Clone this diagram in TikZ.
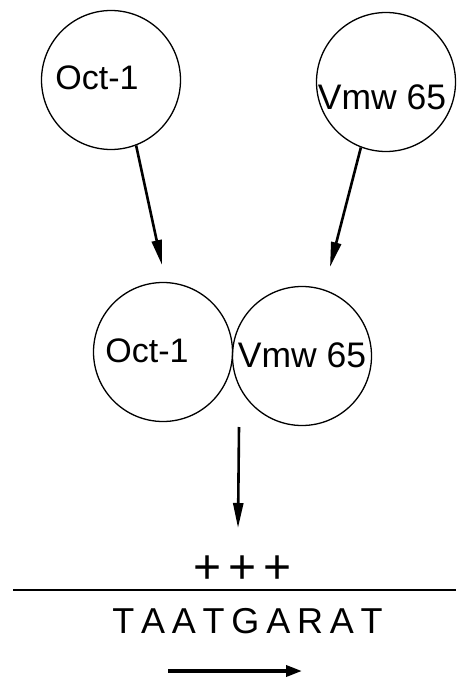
\documentclass[tikz,border=0pt]{standalone}
\usepackage{fontspec}
\setmainfont{Liberation Sans}
\usetikzlibrary{arrows.meta}
\begin{document}
\begin{tikzpicture}[x=1pt,y=-1pt,
  factor/.style={circle, draw, line width=1.3pt, minimum size=139pt, inner sep=0pt},
  lbl/.style={inner sep=0pt, font=\fontsize{34}{34}\selectfont},
  lblwide/.style={inner sep=0pt, font=\fontsize{35.5}{35.5}\selectfont},
  binds/.style={line width=2.6pt, -{Triangle[length=25pt,width=10pt]}},
  strand/.style={line width=1.8pt},
  orient/.style={line width=3.5pt, -{Triangle[length=16pt,width=11pt]}}]
\useasboundingbox (0,0) rectangle (456,679);

% free factors
\node[factor] (octA) at (111,80) {};
\node[lbl] (octAlbl) at (97,78) {Oct-1};
\node[factor] (vmwA) at (386,82) {};
\node[lblwide] (vmwAlbl) at (382,97) {Vmw 65};

% the complex
\node[factor] (octB) at (163,352) {};
\node[lbl] (octBlbl) at (147,351) {Oct-1};
\node[factor] (vmwB) at (302,356) {};
\node[lblwide] (vmwBlbl) at (302,355) {Vmw 65};

% assembly arrows
\coordinate (tipA) at (162,265);
\coordinate (tipB) at (330,267);
\draw[binds] (octA.-69) -- (tipA);
\draw[binds] (vmwA.-111) -- (tipB);

% binding to the DNA
\coordinate (cx) at (239,427);
\coordinate (tipC) at (238,528);
\draw[binds] (cx) -- (tipC);

% contact sites
\node[inner sep=0pt, anchor=base, font=\fontsize{48}{48}\selectfont] (sites) at (243,583) {+\hspace{7pt}+\hspace{7pt}+};

% DNA strand
\coordinate (dnaL) at (13,590);
\coordinate (dnaR) at (456,590);
\draw[strand] (dnaL) -- (dnaR);

% motif
\node[inner sep=0pt, font=\fontsize{36}{36}\selectfont] (motif) at (247.5,621)
  {T\hspace{6.8pt}A\hspace{6.8pt}A\hspace{6.8pt}T\hspace{6.8pt}G\hspace{6.8pt}A\hspace{6.8pt}R\hspace{6.8pt}A\hspace{6.8pt}T};

% orientation
\coordinate (oriL) at (168,671);
\coordinate (oriR) at (302,671);
\draw[orient] (oriL) -- (oriR);
\end{tikzpicture}
\end{document}
